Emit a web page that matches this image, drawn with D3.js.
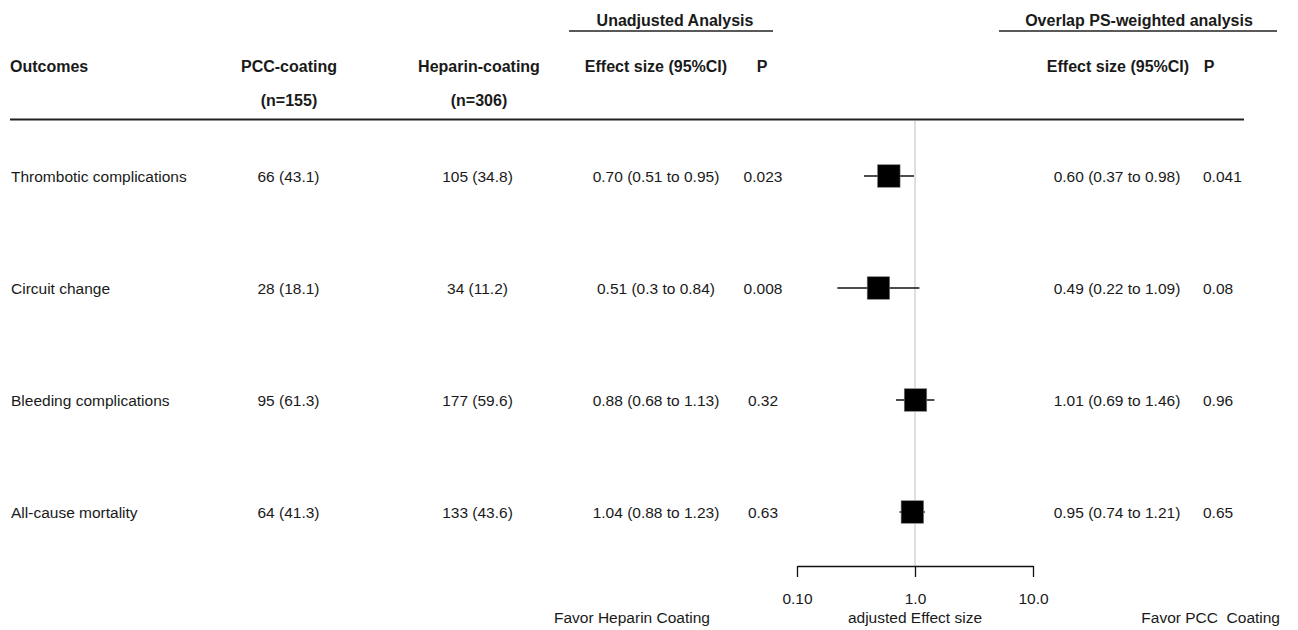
<!DOCTYPE html>
<html>
<head>
<meta charset="utf-8">
<script src="https://cdn.jsdelivr.net/npm/d3@7"></script>
<style>
  html, body { margin: 0; padding: 0; background: #fff; }
  svg text { font-family: "Liberation Sans", Arial, sans-serif; fill: #1a1a1a; }
</style>
</head>
<body>
<script>
// ---- data ----
const outcomes = ["Thrombotic complications", "Circuit change", "Bleeding complications", "All-cause mortality"];
const pccCounts = ["66 (43.1)", "28 (18.1)", "95 (61.3)", "64 (41.3)"];
const heparinCounts = ["105 (34.8)", "34 (11.2)", "177 (59.6)", "133 (43.6)"];
const unadjEffect = ["0.70 (0.51 to 0.95)", "0.51 (0.3 to 0.84)", "0.88 (0.68 to 1.13)", "1.04 (0.88 to 1.23)"];
const unadjP = ["0.023", "0.008", "0.32", "0.63"];
const psEst = [0.60, 0.49, 1.01, 0.95];
const psLow = [0.37, 0.22, 0.69, 0.74];
const psHigh = [0.98, 1.09, 1.46, 1.21];
const psP = ["0.041", "0.08", "0.96", "0.65"];
const axisTicks = [0.1, 1, 10];
const axisTickLabels = ["0.10", "1.0", "10.0"];

// ---- layout ----
const W = 1298, H = 630;
const svg = d3.select("body").append("svg").attr("width", W).attr("height", H);

const bodyFont = 15.5, boldFont = 16;
const x = d3.scaleLog().domain([0.1, 10]).range([797, 1033]);
const y = d3.scaleBand().domain(d3.range(outcomes.length)).range([120, 568]).paddingInner(0);
const rowY = i => y(i) + y.bandwidth() / 2;

// header group titles
function hdr(t, xc, yb, anchor) {
  svg.append("text").attr("x", xc).attr("y", yb).attr("text-anchor", anchor || "middle")
    .attr("font-size", boldFont).attr("font-weight", "bold").text(t);
}
hdr("Unadjusted Analysis", 675, 26);
svg.append("line").attr("x1", 569).attr("x2", 773).attr("y1", 31).attr("y2", 31).attr("stroke", "#222").attr("stroke-width", 1.5);
hdr("Overlap PS-weighted analysis", 1139, 26);
svg.append("line").attr("x1", 999).attr("x2", 1277).attr("y1", 31).attr("y2", 31).attr("stroke", "#222").attr("stroke-width", 1.5);

hdr("Outcomes", 10, 72, "start");
hdr("PCC-coating", 289, 72);
hdr("(n=155)", 289, 106);
hdr("Heparin-coating", 479, 72);
hdr("(n=306)", 479, 106);
hdr("Effect size (95%CI)", 656, 72);
hdr("P", 762, 72);
hdr("Effect size (95%CI)", 1118, 72);
hdr("P", 1209, 72);

svg.append("line").attr("x1", 10).attr("x2", 1244).attr("y1", 119.5).attr("y2", 119.5).attr("stroke", "#222").attr("stroke-width", 2);

// reference line
svg.append("line").attr("x1", x(1)).attr("x2", x(1)).attr("y1", 121).attr("y2", 566)
  .attr("stroke", "#d4d4d4").attr("stroke-width", 1.5);

// rows
const rows = svg.append("g").selectAll("g").data(outcomes).join("g")
  .attr("transform", (d, i) => `translate(0,${rowY(i)})`);

function col(sel, acc, xc, anchor) {
  sel.append("text").attr("x", xc).attr("y", 6).attr("text-anchor", anchor)
    .attr("font-size", bodyFont).text(acc);
}
col(rows, d => d, 11, "start");
col(rows, (d, i) => pccCounts[i], 288.5, "middle");
col(rows, (d, i) => heparinCounts[i], 477.5, "middle");
col(rows, (d, i) => unadjEffect[i], 656, "middle");
col(rows, (d, i) => unadjP[i], 763, "middle");
col(rows, (d, i) => `${psEst[i].toFixed(2)} (${psLow[i].toFixed(2)} to ${psHigh[i].toFixed(2)})`, 1117, "middle");
col(rows, (d, i) => psP[i], 1203, "start");

// CIs and squares
const sq = 22.5;
rows.append("line").attr("x1", (d, i) => x(psLow[i])).attr("x2", (d, i) => x(psHigh[i]))
  .attr("y1", 0).attr("y2", 0).attr("stroke", "#111").attr("stroke-width", 1.5);
rows.append("rect").attr("x", (d, i) => x(psEst[i]) - sq / 2).attr("y", -sq / 2)
  .attr("width", sq).attr("height", sq).attr("fill", "#000").attr("stroke", "#777").attr("stroke-width", 0.6);

// axis
const axisY = 566;
const axis = d3.axisBottom(x).tickValues(axisTicks).tickFormat((d, i) => axisTickLabels[i])
  .tickSize(11).tickSizeOuter(0);
const ag = svg.append("g").attr("transform", `translate(0,${axisY})`).call(axis);
ag.select(".domain").attr("stroke", "#111").attr("stroke-width", 1.3);
ag.selectAll(".tick line").attr("stroke", "#111").attr("stroke-width", 1.3);
ag.selectAll(".tick text").attr("font-size", bodyFont).attr("font-family", "Liberation Sans, Arial, sans-serif")
  .attr("fill", "#1a1a1a").attr("dy", 0).attr("y", 38);

svg.append("text").attr("x", x(1)).attr("y", 623).attr("text-anchor", "middle").attr("font-size", bodyFont).text("adjusted Effect size");
svg.append("text").attr("x", 554).attr("y", 623).attr("text-anchor", "start").attr("font-size", bodyFont).text("Favor Heparin Coating");
svg.append("text").attr("x", 1280).attr("y", 623).attr("text-anchor", "end").attr("font-size", bodyFont).attr("xml:space", "preserve").text("Favor PCC  Coating");
</script>
</body>
</html>
